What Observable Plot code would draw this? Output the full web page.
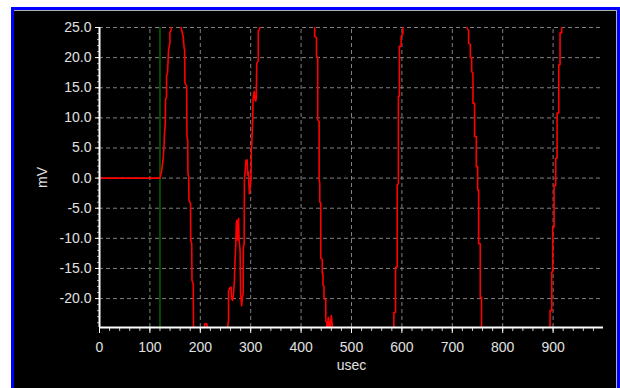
<!DOCTYPE html>
<html>
<head>
<meta charset="utf-8">
<script src="https://cdn.jsdelivr.net/npm/d3@7"></script>
<script src="https://cdn.jsdelivr.net/npm/@observablehq/plot@0.6"></script>
<style>
html, body { margin: 0; padding: 0; background: #ffffff; width: 620px; height: 388px; overflow: hidden; }
#frame { position: absolute; left: 11px; top: 7px; right: 0; bottom: 0; border: 3px solid #0000ff; border-bottom: none; background: #000000; box-shadow: inset 0 1px 0 #b0b0b0, inset -1px 0 0 #b0b0b0; }
#chart { position: absolute; left: 0; top: 0; }
</style>
</head>
<body>
<div id="frame"></div>
<div id="chart"></div>
<script>
// Trace samples (time in usec, voltage in mV); values beyond the visible range are off-scale estimates
const usec = [
  0, 120,
  121, 122.6, 126, 128, 129, 130.5, 131, 133, 133, 135, 137, 139.7, 139.7, 142, 143,
  152,
  161, 162, 163, 166, 168, 169, 169.5, 173, 173.5, 175, 175.5, 177, 177.5, 180.6, 181, 183, 183.5, 186, 186.5, 188,
  198,
  207, 209, 213, 215,
  232,
  253, 254.5, 256, 256, 259, 261, 262, 264.3, 266, 267.6, 269, 270.5, 271.5, 272.5, 273.5, 275, 276, 277, 279, 280, 282, 283.5, 285, 285.5, 287, 287.5, 289, 290.7, 292, 293, 294, 295.5, 297.3, 298.5, 299.3, 300.6, 301.3, 302, 304, 304.6, 307, 308.5, 310, 311, 312, 315, 315, 317, 319,
  372,
  424, 427, 427, 430.5, 430.5, 433, 433, 435.8, 435.8, 437, 437, 439, 439, 442, 442, 443.5, 443.5, 445.5, 445.5, 449, 449, 451, 452, 454, 457, 460, 463,
  523,
  583, 584, 584, 587.4, 587.4, 590.6, 590.6, 593, 593, 595, 595, 598.5, 598.5, 602, 602, 604,
  665,
  727, 729, 732.4, 732.4, 735.8, 735.8, 738.4, 738.4, 741, 741, 744.2, 744.2, 747.6, 747.6, 750.3, 750.3, 752.3, 752.3, 755.5, 755.5, 758, 758, 760,
  826,
  892, 894, 894, 897.3, 897.3, 899.2, 899.2, 901.9, 901.9, 905.2, 905.2, 907.9, 907.9, 911.2, 911.2, 913.8, 913.8, 917, 917, 919,
  960
];
const mv = [
  0, 0,
  0.4, 0.8, 3.0, 5.2, 7.5, 9.0, 13.0, 13.5, 16.9, 17.5, 21.3, 22.5, 24.2, 24.5, 25.3,
  40,
  25.5, 25.0, 24.5, 23.5, 21.5, 21.3, 15.8, 15.2, 6.9, 6.3, 0.8, 0.2, -3.7, -4.2, -10.3, -10.9, -17.0, -17.5, -24.5, -26,
  -32,
  -25.5, -24.2, -24.2, -25.5,
  -34,
  -26, -24.5, -23.7, -18.7, -18.2, -18.1, -20.0, -20.3, -19.2, -17.0, -13.5, -10.9, -7.5, -7.0, -10.3, -8.0, -6.7, -10.3, -12.0, -19.2, -21.2, -19.8, -19.2, -11.5, -11.0, -0.3, 1.0, 3.0, 2.4, 3.0, 0.5, 1.0, -2.6, -2.0, -1.0, -0.3, 4.7, 5.3, 9.7, 13.3, 14.4, 13.0, 12.8, 13.3, 19.0, 19.5, 24.4, 24.6, 25.3,
  45,
  27, 25.2, 23.5, 23.3, 20.2, 20.0, 9.7, 9.4, -0.3, -0.8, -3.9, -4.2, -13.3, -13.5, -15.8, -16.0, -17.8, -18.0, -20.0, -20.2, -23.7, -24.0, -25.2, -23.1, -25.2, -22.8, -25.5,
  -45,
  -26, -24.5, -22.3, -22.3, -14.8, -14.8, -1.2, -0.9, 13.6, 13.6, 21.9, 21.9, 23.5, 24.0, 25.5, 27,
  45,
  27, 25.0, 24.4, 22.4, 22.2, 20.0, 20.0, 17.7, 17.4, 12.4, 12.4, 6.9, 6.9, 1.9, 1.9, -2.0, -2.0, -10.9, -10.9, -19.8, -19.8, -25, -27,
  -45,
  -27, -24.5, -22.0, -22.0, -15.6, -15.6, -8.1, -8.1, -1.2, -1.2, 3.3, 3.3, 10.8, 10.8, 18.8, 18.8, 24.1, 24.1, 25.5, 27,
  45
];
const triggerUsec = [120];
const xTicks = [0, 100, 200, 300, 400, 500, 600, 700, 800, 900];
const xGrid = [100, 200, 300, 400, 500, 600, 700, 800, 900];
const yTicks = [-20, -15, -10, -5, 0, 5, 10, 15, 20, 25];
const xMinor = d3.range(0, 1000, 20);
const yMinor = d3.range(-24, 26, 1);
const yMin = -24.8, yMax = 25, xMin = 0, xMax = 1000;
const xLabel = "usec";
const yLabel = "mV";

const trace = usec.map((t, i) => ({t, v: mv[i]}));
const textColor = "#e0e0e0";

const chart = Plot.plot({
  width: 620,
  height: 388,
  marginLeft: 99,
  marginRight: 17,
  marginTop: 27,
  marginBottom: 61,
  x: {domain: [xMin, xMax]},
  y: {domain: [yMin, yMax]},
  style: {background: "transparent", color: textColor, fontFamily: "'Liberation Sans', Arial, sans-serif", fontSize: "14px"},
  marks: [
    Plot.ruleY(yTicks, {x1: xMin, x2: xMax, stroke: "#808080", strokeDasharray: "4,3", strokeWidth: 1}),
    Plot.ruleX(xGrid, {y1: yMin, y2: yMax, stroke: "#808080", strokeDasharray: "4,3", strokeWidth: 1}),
    Plot.ruleX(triggerUsec, {y1: yMin, y2: yMax, stroke: "#008000", strokeWidth: 1.2}),
    Plot.line(trace, {x: "t", y: "v", stroke: "#ff0000", strokeWidth: 1.6, clip: true}),
    Plot.axisX(xMinor, {tickSize: 4, tickFormat: () => "", stroke: "#c8c8c8", label: null}),
    Plot.axisY(yMinor, {tickSize: 2, tickFormat: () => "", stroke: "#a0a0a0", label: null}),
    Plot.axisX(xTicks, {tickSize: 6, tickPadding: 9, tickFormat: d => String(d), stroke: "#ffffff", fill: textColor, label: null}),
    Plot.axisY(yTicks, {tickSize: 4, tickPadding: 4, tickFormat: d => d.toFixed(1), stroke: "#ffffff", fill: textColor, label: null}),
    Plot.ruleX([xMin], {y1: yMin, y2: yMax, stroke: "#ffffff", strokeWidth: 2}),
    Plot.ruleY([yMin], {x1: xMin, x2: xMax, stroke: "#ffffff", strokeWidth: 2}),
    Plot.text([yLabel], {text: d => d, frameAnchor: "left", dx: -57, rotate: -90, textAnchor: "middle", lineAnchor: "middle", fill: textColor}),
    Plot.text([xLabel], {text: d => d, frameAnchor: "bottom", dy: 38, textAnchor: "middle", lineAnchor: "middle", fill: textColor})
  ]
});
document.getElementById("chart").appendChild(chart);
</script>
</body>
</html>
